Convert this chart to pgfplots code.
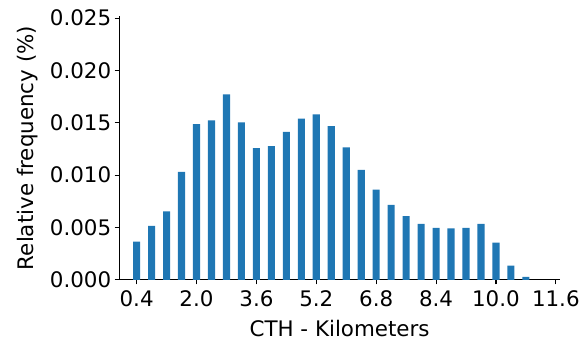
\documentclass[border=0pt]{standalone}
\usepackage{pgfplots}
\pgfplotsset{compat=1.18}
\usepackage{fontspec}
\setmainfont{DejaVu Sans}
\definecolor{tabblue}{HTML}{1F77B4}
\begin{document}
\begin{tikzpicture}
\begin{axis}[
  at={(0,0)}, anchor=south west,
  scale only axis,
  width=441bp, height=264bp,
  xmin=-0.065, xmax=11.71,
  ymin=0, ymax=0.0252,
  axis x line*=bottom, axis y line*=left,
  axis line style={black, line width=1.1bp, -},
  tick style={black, line width=1.1bp},
  tick align=outside,
  major tick length=4.5bp,
  xtick={0.4,2.0,3.6,5.2,6.8,8.4,10.0,11.6},
  ytick={0,0.005,0.010,0.015,0.020,0.025},
  scaled y ticks=false,
  tick label style={font=\fontsize{21.5}{25}\selectfont},
  xticklabel style={yshift=-3bp, /pgf/number format/.cd, fixed, fixed zerofill, precision=1},
  yticklabel style={/pgf/number format/.cd, fixed, fixed zerofill, precision=3},
  /pgf/number format/assume math mode=true,
  label style={font=\fontsize{21.5}{25}\selectfont},
  xlabel={CTH - Kilometers},
  ylabel={Relative frequency (\%)},
  x label style={at={([yshift=-57bp]axis description cs:0.5,0)}, anchor=base},
  y label style={at={([xshift=-91.8bp]axis description cs:0,0.5)}, anchor=center, rotate=0},
  ybar, bar width=0.19,
]
\addplot[fill=tabblue, draw=none] coordinates {
(0.4,0.00364) (0.8,0.00516) (1.2,0.00653) (1.6,0.01030) (2.0,0.01486)
(2.4,0.01524) (2.8,0.01771) (3.2,0.01505) (3.6,0.01258) (4.0,0.01277)
(4.4,0.01413) (4.8,0.01540) (5.2,0.01581) (5.6,0.01467) (6.0,0.01264)
(6.4,0.01049) (6.8,0.00862) (7.2,0.00716) (7.6,0.00608) (8.0,0.00535)
(8.4,0.00497) (8.8,0.00491) (9.2,0.00497) (9.6,0.00535) (10.0,0.00355)
(10.4,0.00136) (10.8,0.00029)
};
\end{axis}
\useasboundingbox (-119.3bp,-59bp) rectangle (463.7bp,280bp);
\end{tikzpicture}
\end{document}
